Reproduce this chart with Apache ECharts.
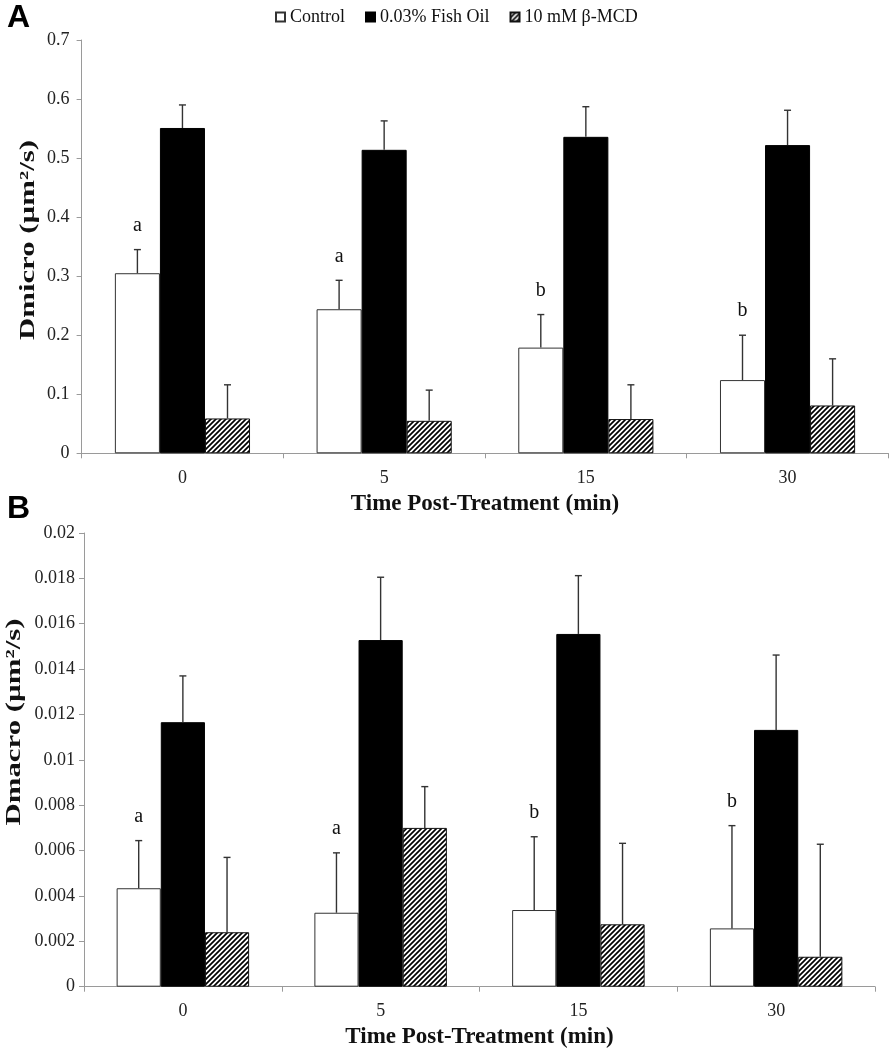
<!DOCTYPE html>
<html>
<head>
<meta charset="utf-8">
<script src="https://cdn.jsdelivr.net/npm/echarts@6/dist/echarts.min.js"></script>
<style>html,body{margin:0;padding:0;background:#fff}#c{width:893px;height:1050px}</style>
</head>
<body>
<div id="c"></div>
<script>
// ---- data ----
const categories = ['0', '5', '15', '30'];
const seriesNames = ['Control', '0.03% Fish Oil', '10 mM β-MCD'];
const xTitle = 'Time Post-Treatment (min)';

// Panel A: Dmicro (µm²/s)
const dmicroTitle      = 'Dmicro (µm²/s)';
const dmicroControl    = [0.305, 0.244, 0.179, 0.124];
const dmicroFishOil    = [0.551, 0.514, 0.536, 0.522];
const dmicroMCD        = [0.059, 0.055, 0.058, 0.081];
const dmicroControlErr = [0.040, 0.049, 0.056, 0.076];
const dmicroFishOilErr = [0.039, 0.049, 0.051, 0.059];
const dmicroMCDErr     = [0.057, 0.052, 0.058, 0.079];
const dmicroLetters    = ['a', 'a', 'b', 'b'];
const dmicroTicks      = [0, 0.1, 0.2, 0.3, 0.4, 0.5, 0.6, 0.7];

// Panel B: Dmacro (µm²/s)
const dmacroTitle      = 'Dmacro (µm²/s)';
const dmacroControl    = [0.00434, 0.00326, 0.00338, 0.00257];
const dmacroFishOil    = [0.01166, 0.01528, 0.01555, 0.01132];
const dmacroMCD        = [0.00240, 0.00700, 0.00275, 0.00132];
const dmacroControlErr = [0.00210, 0.00264, 0.00323, 0.00453];
const dmacroFishOilErr = [0.00204, 0.00277, 0.00257, 0.00330];
const dmacroMCDErr     = [0.00330, 0.00182, 0.00357, 0.00496];
const dmacroLetters    = ['a', 'a', 'b', 'b'];
const dmacroTicks      = [0, 0.002, 0.004, 0.006, 0.008, 0.01, 0.012, 0.014, 0.016, 0.018, 0.02];

// ---- styling helpers ----
const SERIF = '"Liberation Serif", "Times New Roman", serif';
const SANS = '"Liberation Sans", Arial, sans-serif';
const GAP = 0.33;

function makeHatch() {
  const s = 5;
  const c = document.createElement('canvas');
  c.width = s; c.height = s;
  const g = c.getContext('2d');
  g.fillStyle = '#fff'; g.fillRect(0, 0, s, s);
  g.strokeStyle = '#000'; g.lineWidth = 1.7;
  g.beginPath();
  g.moveTo(-1, s + 1); g.lineTo(s + 1, -1);
  g.moveTo(-1, 1); g.lineTo(1, -1);
  g.moveTo(s - 1, s + 1); g.lineTo(s + 1, s - 1);
  g.stroke();
  return c;
}
const hatch = { image: makeHatch(), repeat: 'repeat' };

const barStyles = [
  { color: '#ffffff', borderColor: '#333', borderWidth: 1 },
  { color: '#000000', borderColor: '#000', borderWidth: 1 },
  { color: hatch, borderColor: '#111', borderWidth: 1 }
];

function barSeries(idx, name, data) {
  return {
    type: 'bar', name: name, xAxisIndex: idx, yAxisIndex: idx,
    data: data, barGap: '0%', barCategoryGap: (GAP * 100) + '%',
    itemStyle: barStyles[seriesNames.indexOf(name)],
    emphasis: { disabled: true }, z: 2
  };
}

function errSeries(idx, groups, letters) {
  const data = [];
  groups.forEach((g, s) => {
    g[0].forEach((v, i) => data.push([i, s, v, v + g[1][i]]));
  });
  return {
    type: 'custom', xAxisIndex: idx, yAxisIndex: idx, z: 10, silent: true,
    clip: false,
    encode: { x: 0, y: 3 },
    data: data,
    renderItem: function (params, api) {
      const cat = api.value(0), s = api.value(1), v = api.value(2), top = api.value(3);
      const band = api.size([1, 0])[0];
      const bw = band * (1 - GAP) / 3;
      const cx = api.coord([cat, 0])[0] + (s - 1) * bw;
      const yb = api.coord([cat, v])[1];
      const yt = api.coord([cat, top])[1];
      const st = { stroke: '#333', lineWidth: 1.4 };
      const children = [
        { type: 'line', shape: { x1: cx, y1: yb, x2: cx, y2: yt }, style: st },
        { type: 'line', shape: { x1: cx - 3.5, y1: yt, x2: cx + 3.5, y2: yt }, style: st }
      ];
      if (s === 0 && letters[cat]) {
        children.push({
          type: 'text', x: cx, y: yt - 24,
          style: { text: letters[cat], fill: '#111', font: '20px ' + SERIF, align: 'center', verticalAlign: 'middle' }
        });
      }
      return { type: 'group', children: children };
    }
  };
}

const axisLineStyle = { color: '#9a9a9a', width: 1 };

function xAxis(idx) {
  return {
    type: 'category', gridIndex: idx, data: categories,
    axisLine: { lineStyle: axisLineStyle },
    axisTick: { show: true, length: 5, lineStyle: axisLineStyle },
    axisLabel: { fontFamily: SERIF, fontSize: 18, color: '#222', margin: 16 },
    name: xTitle, nameLocation: 'middle', nameGap: 39,
    nameTextStyle: { fontFamily: SERIF, fontWeight: 'bold', fontSize: 23, color: '#111' }
  };
}

function yAxis(idx, ticks, margin) {
  return {
    type: 'value', gridIndex: idx,
    min: ticks[0], max: ticks[ticks.length - 1], interval: ticks[1] - ticks[0],
    splitLine: { show: false },
    axisLine: { show: true, lineStyle: axisLineStyle },
    axisTick: { show: true, length: 5, lineStyle: axisLineStyle },
    axisLabel: {
      fontFamily: SERIF, fontSize: 18, color: '#222', margin: margin,
      formatter: function (val) {
        let best = ticks[0];
        ticks.forEach(t => { if (Math.abs(t - val) < Math.abs(best - val)) best = t; });
        return String(best);
      }
    }
  };
}

function yTitle(text, x, y) {
  return {
    type: 'text', x: x, y: y, rotation: Math.PI / 2, scaleX: 1.4, silent: true,
    style: { text: text, font: 'bold 22px ' + SERIF, fill: '#111', align: 'center', verticalAlign: 'middle' }
  };
}

const chart = echarts.init(document.getElementById('c'), null, { renderer: 'canvas' });
chart.setOption({
  backgroundColor: '#fff',
  animation: false,
  title: [
    { text: 'A', left: 7, top: 2, padding: 0, textStyle: { fontFamily: SANS, fontWeight: 'bold', fontSize: 32, color: '#000' } },
    { text: 'B', left: 7, top: 493, padding: 0, textStyle: { fontFamily: SANS, fontWeight: 'bold', fontSize: 32, color: '#000' } }
  ],
  legend: {
    top: 3, left: 270, itemWidth: 9, itemHeight: 9, itemGap: 20,
    icon: 'rect', data: seriesNames,
    textStyle: { fontFamily: SERIF, fontSize: 18, color: '#111' }
  },
  grid: [
    { left: 81.6, right: 4.6, top: 40, bottom: 596.7, containLabel: false, outerBoundsMode: 'none' },
    { left: 84, right: 18, top: 533, bottom: 63.3, containLabel: false, outerBoundsMode: 'none' }
  ],
  xAxis: [xAxis(0), xAxis(1)],
  yAxis: [yAxis(0, dmicroTicks, 12), yAxis(1, dmacroTicks, 9)],
  graphic: [
    yTitle(dmicroTitle, 28, 240),
    yTitle(dmacroTitle, 14, 722)
  ],
  series: [
    barSeries(0, seriesNames[0], dmicroControl),
    barSeries(0, seriesNames[1], dmicroFishOil),
    barSeries(0, seriesNames[2], dmicroMCD),
    errSeries(0, [[dmicroControl, dmicroControlErr], [dmicroFishOil, dmicroFishOilErr], [dmicroMCD, dmicroMCDErr]], dmicroLetters),
    barSeries(1, seriesNames[0], dmacroControl),
    barSeries(1, seriesNames[1], dmacroFishOil),
    barSeries(1, seriesNames[2], dmacroMCD),
    errSeries(1, [[dmacroControl, dmacroControlErr], [dmacroFishOil, dmacroFishOilErr], [dmacroMCD, dmacroMCDErr]], dmacroLetters)
  ]
});
</script>
</body>
</html>
